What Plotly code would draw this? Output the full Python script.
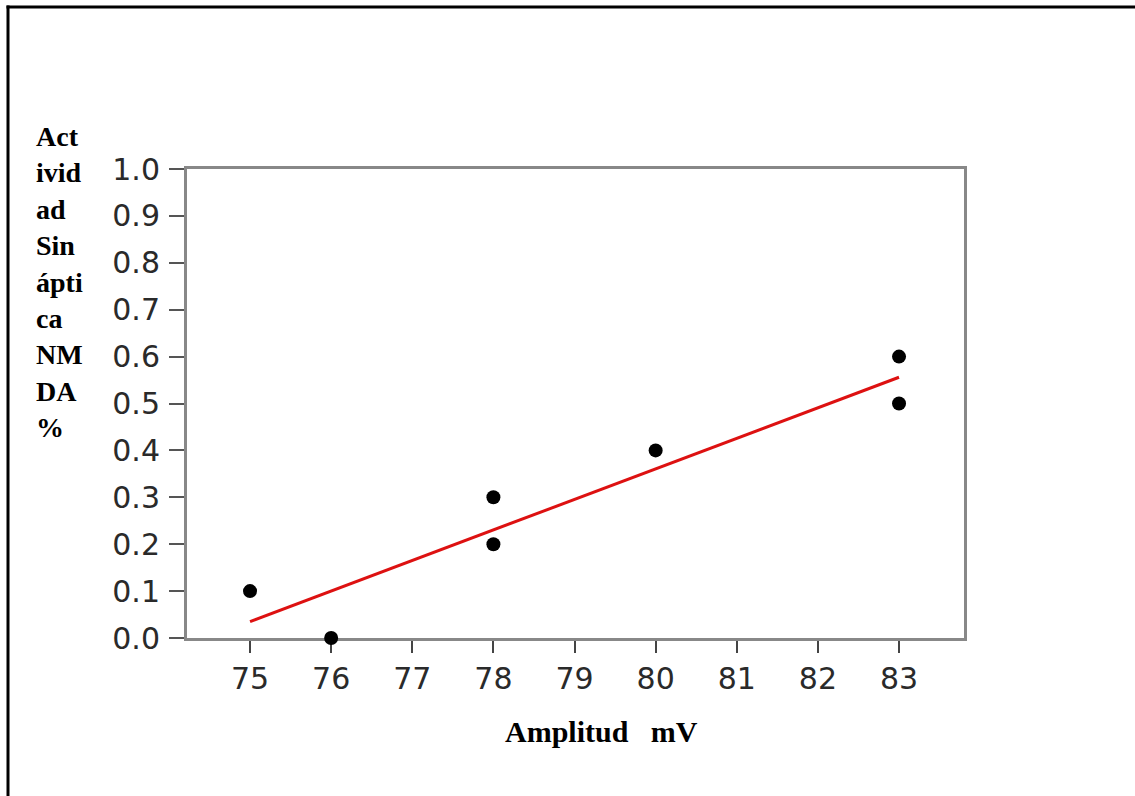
import plotly.graph_objects as go

# Data
amplitud_mv = [75, 76, 78, 78, 80, 83, 83]
actividad = [0.1, 0.0, 0.3, 0.2, 0.4, 0.6, 0.5]
fit_x = [75, 83]
fit_y = [0.035, 0.556]
y_ticks = [0.0, 0.1, 0.2, 0.3, 0.4, 0.5, 0.6, 0.7, 0.8, 0.9, 1.0]
x_ticks = [75, 76, 77, 78, 79, 80, 81, 82, 83]
y_title_lines = ["Act", "ivid", "ad", "Sin", "ápti", "ca", "NM", "DA", "%"]
x_title = "Amplitud\u00a0\u00a0\u00a0mV"

W, H = 1135, 796
L, R, T, B = 187, 964, 169, 638
pw, ph = R - L, B - T


def px(x):
    return (x - L) / pw


def py(y):
    return (B - y) / ph


fig = go.Figure()
fig.add_trace(go.Scatter(
    x=fit_x, y=fit_y, mode="lines",
    line=dict(color="#dd1111", width=3),
    showlegend=False, hoverinfo="skip",
))
fig.add_trace(go.Scatter(
    x=amplitud_mv, y=actividad, mode="markers",
    marker=dict(color="black", size=14),
    cliponaxis=False, showlegend=False,
))

fig.update_layout(
    width=W, height=H,
    margin=dict(l=L, r=W - R, t=T, b=H - B, pad=0),
    paper_bgcolor="white", plot_bgcolor="white",
    font=dict(family="DejaVu Sans", color="#2a2a2a"),
    xaxis=dict(
        range=[74.223, 83.801], tickvals=x_ticks,
        ticktext=[str(v) for v in x_ticks],
        showgrid=False, zeroline=False,
        showline=True, linecolor="#888888", linewidth=3, mirror=True,
        ticks="outside", ticklen=12, tickwidth=2, tickcolor="#444444",
        tickfont=dict(size=30, family="DejaVu Sans", color="#2a2a2a"),
        ticklabelstandoff=0,
        layer="below traces",
    ),
    yaxis=dict(
        range=[0, 1], tickvals=y_ticks,
        ticktext=[f"{v:.1f}" for v in y_ticks],
        showgrid=False, zeroline=False,
        showline=True, linecolor="#888888", linewidth=3, mirror=True,
        ticks="outside", ticklen=15, tickwidth=2, tickcolor="#555555",
        tickfont=dict(size=30, family="DejaVu Sans", color="#2a2a2a"),
        ticklabelstandoff=3,
        layer="below traces",
    ),
    shapes=[
        dict(type="line", xref="paper", yref="paper",
             x0=px(6.5), x1=px(1140), y0=py(7), y1=py(7),
             line=dict(color="black", width=3)),
        dict(type="line", xref="paper", yref="paper",
             x0=px(8), x1=px(8), y0=py(5.5), y1=py(800),
             line=dict(color="black", width=3)),
    ],
    annotations=[
        dict(xref="paper", yref="paper", x=px(34), y=py(282),
             xanchor="left", yanchor="middle", align="left", showarrow=False,
             text="<br>".join(f"<b>{s}</b>" for s in y_title_lines),
             font=dict(family="Liberation Serif", size=28, color="black")),
        dict(xref="paper", yref="paper", x=px(601), y=py(731),
             xanchor="center", yanchor="middle", showarrow=False,
             text=f"<b>{x_title}</b>",
             font=dict(family="Liberation Serif", size=30, color="black")),
    ],
)

fig.write_html("out.html")
